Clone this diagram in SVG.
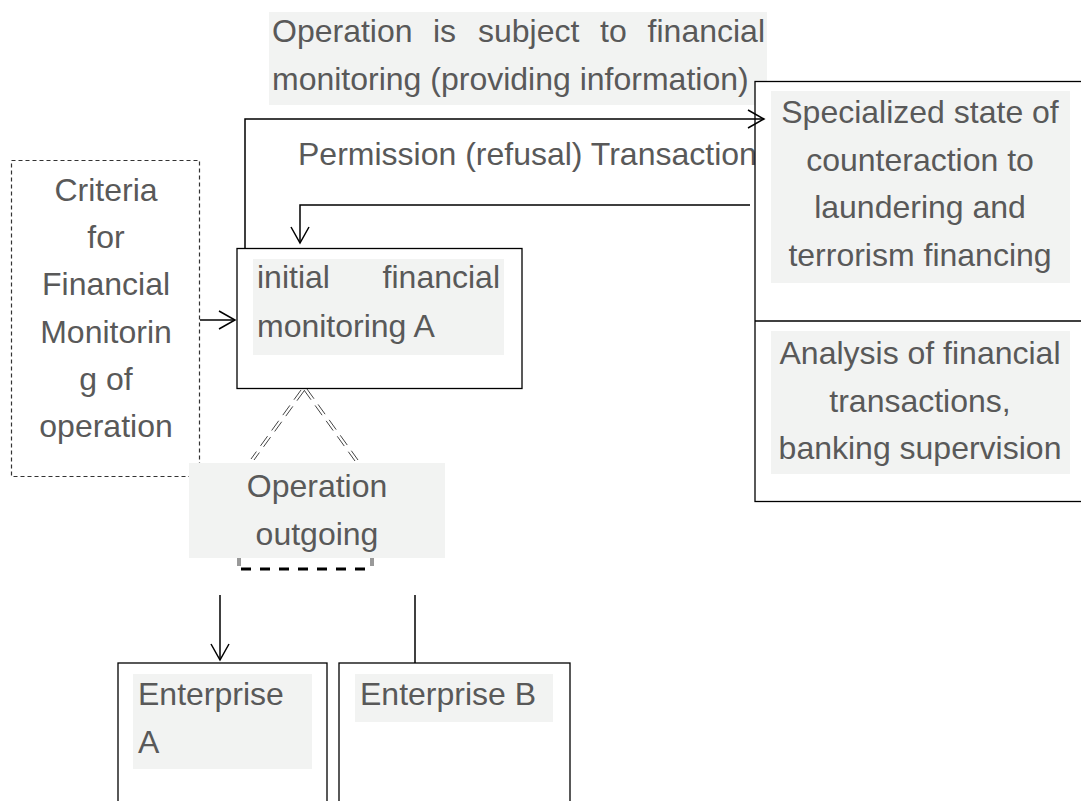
<svg xmlns="http://www.w3.org/2000/svg" width="1081" height="801" viewBox="0 0 1081 801">
<defs>
<style>
.t{font-family:"Liberation Sans",Arial,sans-serif;font-size:32px;fill:#595959}
.m{text-anchor:middle}
.e{text-anchor:end}
.bg{fill:#f2f3f2}
.box{fill:#fff;stroke:#000;stroke-width:1.3}
.ln{fill:none;stroke:#000;stroke-width:1.5}
.dbl{fill:none;stroke:#444;stroke-width:1;stroke-dasharray:12 7}
</style>
<marker id="ah" markerWidth="20" markerHeight="20" refX="18" refY="10" orient="auto" markerUnits="userSpaceOnUse">
<path d="M2,1 L18,10 L2,19" fill="none" stroke="#000" stroke-width="1.5"/>
</marker>
</defs>
<rect width="1081" height="801" fill="#fff"/>

<g id="top-label">
<rect class="bg" x="269" y="12" width="498" height="93"/>
<text class="t" y="42"><tspan x="272">Operation</tspan><tspan x="433">is</tspan><tspan x="478">subject</tspan><tspan x="600">to</tspan><tspan x="765" class="e">financial</tspan></text>
<text class="t" x="272" y="90">monitoring (providing information)</text>
</g>

<g id="permission-label">
<text class="t" x="298" y="165">Permission (refusal) Transaction</text>
</g>

<g id="state-body">
<rect class="box" x="755" y="81.5" width="340" height="420"/>
<line x1="755" y1="321" x2="1081" y2="321" stroke="#000" stroke-width="1.5"/>
<rect class="bg" x="771" y="91" width="299" height="192"/>
<text class="t m" x="920" y="123">Specialized state of</text>
<text class="t m" x="920" y="171">counteraction to</text>
<text class="t m" x="920" y="218">laundering and</text>
<text class="t m" x="920" y="266">terrorism financing</text>
<rect class="bg" x="771" y="331" width="299" height="143"/>
<text class="t m" x="920" y="364">Analysis of financial</text>
<text class="t m" x="920" y="412">transactions,</text>
<text class="t m" x="920" y="459">banking supervision</text>
</g>

<g id="criteria">
<rect x="11.5" y="160.5" width="188" height="316" fill="none" stroke="#333" stroke-width="1.2" stroke-dasharray="4 3"/>
<text class="t m" x="106" y="201">Criteria</text>
<text class="t m" x="106" y="248">for</text>
<text class="t m" x="106" y="295">Financial</text>
<text class="t m" x="106" y="343">Monitorin</text>
<text class="t m" x="106" y="390">g of</text>
<text class="t m" x="106" y="437">operation</text>
</g>

<g id="initial">
<rect class="box" x="237" y="248.5" width="285" height="140"/>
<rect class="bg" x="253" y="259" width="251" height="96"/>
<text class="t" y="288"><tspan x="257">initial</tspan><tspan x="500" class="e">financial</tspan></text>
<text class="t" x="257" y="337">monitoring A</text>
</g>

<g id="outgoing">
<rect class="bg" x="189" y="463" width="256" height="95"/>
<text class="t m" x="317" y="497">Operation</text>
<text class="t m" x="317" y="545">outgoing</text>
</g>

<g id="enterprise-a">
<rect class="box" x="118" y="663" width="209" height="150"/>
<rect class="bg" x="133" y="674" width="179" height="95"/>
<text class="t" x="138" y="705">Enterprise</text>
<text class="t" x="138" y="753">A</text>
</g>

<g id="enterprise-b">
<rect class="box" x="339" y="663" width="231" height="150"/>
<rect class="bg" x="355" y="674" width="198" height="48"/>
<text class="t" x="360" y="705">Enterprise B</text>
</g>

<g id="connectors">
<path class="ln" d="M245,248 V119 H764" marker-end="url(#ah)"/>
<path class="ln" d="M750,205 H300 V243" marker-end="url(#ah)"/>
<line class="ln" x1="200" y1="320" x2="235" y2="320" marker-end="url(#ah)"/>
<path class="dbl" d="M301,390 L251,459 M304,391 L254,460"/>
<path class="dbl" d="M304,390 L355,461 M307,389 L358,460"/>
<path d="M238,558 V566 M240,558 V566 M371,558 V566 M373,558 V566" stroke="#000" stroke-width="0.8"/>
<line x1="241" y1="569" x2="369" y2="569" stroke="#000" stroke-width="3" stroke-dasharray="10 9"/>
<line class="ln" x1="220" y1="595" x2="220" y2="660" marker-end="url(#ah)"/>
<line class="ln" x1="415" y1="595" x2="415" y2="663"/>
</g>
</svg>
